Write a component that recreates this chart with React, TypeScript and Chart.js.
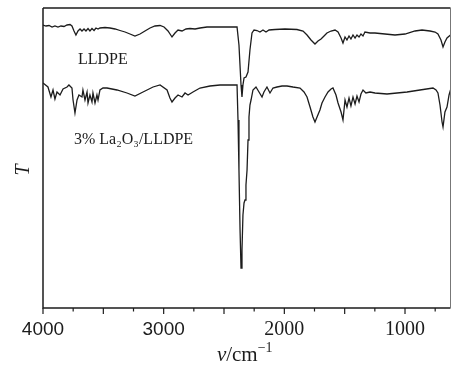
import React, { useEffect, useRef } from "react";
import { Chart, registerables } from "chart.js";

Chart.register(...registerables);

// LLDPE spectrum (wavenumber cm^-1, transmittance in arbitrary units)
const WN_LLDPE = [4000, 3975, 3950, 3925, 3901, 3876, 3851, 3826, 3801, 3776, 3760, 3743, 3727, 3710, 3693, 3677, 3660, 3644, 3627, 3611, 3594, 3577, 3561, 3544, 3528, 3486, 3445, 3403, 3362, 3320, 3279, 3238, 3196, 3155, 3113, 3072, 3030, 2997, 2964, 2931, 2906, 2881, 2848, 2815, 2782, 2740, 2699, 2641, 2575, 2492, 2392, 2376, 2359, 2351, 2343, 2334, 2318, 2301, 2285, 2268, 2251, 2227, 2202, 2177, 2152, 2127, 2077, 1995, 1895, 1845, 1812, 1779, 1746, 1721, 1696, 1671, 1647, 1613, 1580, 1555, 1530, 1514, 1497, 1481, 1464, 1448, 1431, 1414, 1398, 1381, 1365, 1348, 1332, 1290, 1249, 1166, 1083, 1000, 917, 859, 793, 751, 727, 702, 685, 669, 652, 623];
const T_LLDPE = [283, 282, 282.5, 281, 282, 281, 282, 281.5, 283, 283.5, 282, 277, 273, 277, 279, 277, 279, 277, 279.5, 277, 279.5, 277.5, 280, 279, 280, 280.5, 280, 279, 277.5, 276, 274, 272, 274, 277, 280, 282, 282.5, 281, 277, 271, 275, 278, 277, 279, 279.5, 279, 280, 281, 281, 281, 281, 263, 223, 211, 223, 230, 231, 236, 258, 275, 278, 277.5, 276, 278, 276, 278, 278.5, 279, 278.5, 277, 273, 268, 264, 267, 269, 272, 275, 277, 278, 276, 270, 265, 271, 268, 272, 269, 273, 270, 273, 271, 274, 272, 276, 275, 275, 274, 273, 274, 277, 278, 277, 276, 274, 268, 261, 266, 270, 273];

// 3% La2O3/LLDPE spectrum
const WN_COMPOSITE = [4000, 3959, 3934, 3917, 3901, 3884, 3859, 3834, 3801, 3785, 3760, 3751, 3735, 3718, 3702, 3677, 3669, 3652, 3635, 3627, 3611, 3594, 3586, 3569, 3553, 3544, 3528, 3503, 3470, 3387, 3304, 3238, 3171, 3088, 3030, 2972, 2948, 2931, 2906, 2881, 2848, 2823, 2798, 2757, 2699, 2616, 2533, 2450, 2392, 2384, 2376, 2367, 2359, 2351, 2343, 2334, 2326, 2318, 2309, 2301, 2293, 2285, 2276, 2260, 2235, 2210, 2185, 2169, 2144, 2119, 2094, 2061, 2019, 1978, 1928, 1870, 1837, 1812, 1787, 1763, 1746, 1729, 1705, 1688, 1663, 1638, 1613, 1597, 1572, 1555, 1530, 1514, 1497, 1481, 1464, 1448, 1431, 1414, 1398, 1381, 1365, 1348, 1324, 1290, 1249, 1149, 1066, 983, 876, 768, 743, 727, 710, 693, 685, 669, 652, 635, 623];
const T_COMPOSITE = [225, 221, 211, 218, 209, 216, 213, 219, 221, 223, 220, 208, 195, 208, 213, 211, 218, 208, 216, 205, 213, 206, 215, 205, 213, 208, 218, 220, 220, 218, 215, 212, 216, 221, 223, 218, 210, 206, 210, 213, 211, 215, 213, 216, 220, 222, 223, 223, 223, 188, 138, 78, 40, 58, 93, 105, 108, 123, 138, 168, 191, 203, 208, 218, 221, 216, 211, 216, 221, 215, 220, 221, 222, 222, 221, 220, 216, 211, 201, 191, 186, 191, 198, 205, 211, 216, 219, 220, 213, 205, 196, 188, 208, 201, 210, 202, 211, 204, 212, 206, 214, 218, 215, 216, 215, 214, 215, 216, 218, 220, 218, 215, 203, 186, 181, 196, 201, 213, 218];

const X_TICKS = [4000, 3750, 3500, 3250, 3000, 2750, 2500, 2250, 2000, 1750, 1500, 1250, 1000, 750];
const X_MIN = 623;
const X_MAX = 4000;
const Y_MIN = 0;
const Y_MAX = 300;

const SERIES_LABELS = ["LLDPE", "3% La₂O₃/LLDPE"];
const LABEL_WN = [3710, 3743];
const LABEL_T = [244, 164];

const Y_TITLE = "T";
const X_TITLE_VAR = "ν";
const X_TITLE_UNIT = "/cm";
const X_TITLE_EXP = "−1";

const INK = "#1c1c1c";

const decorPlugin = {
  id: "decor",
  afterDraw(chart: any) {
    const { ctx, chartArea, scales } = chart;
    const xs = scales.x;
    const ys = scales.y;
    const { left, right, top, bottom } = chartArea;
    ctx.save();
    // frame
    ctx.strokeStyle = INK;
    ctx.lineWidth = 1.5;
    ctx.beginPath();
    ctx.moveTo(left, top);
    ctx.lineTo(right, top);
    ctx.moveTo(left, top);
    ctx.lineTo(left, bottom);
    ctx.lineTo(right, bottom);
    ctx.stroke();
    ctx.strokeStyle = "#777";
    ctx.lineWidth = 1;
    ctx.beginPath();
    ctx.moveTo(right, top);
    ctx.lineTo(right, bottom);
    ctx.stroke();
    // ticks
    ctx.strokeStyle = INK;
    ctx.lineWidth = 1.2;
    ctx.beginPath();
    for (const t of xs.ticks) {
      const px = xs.getPixelForValue(t.value);
      const len = t.value % 500 === 0 ? 6 : 3.5;
      ctx.moveTo(px, bottom);
      ctx.lineTo(px, bottom + len);
    }
    ctx.stroke();
    // series labels
    ctx.fillStyle = INK;
    ctx.font = '16px "Liberation Serif", "Times New Roman", serif';
    ctx.textAlign = "left";
    ctx.textBaseline = "alphabetic";
    SERIES_LABELS.forEach((s, i) => {
      ctx.fillText(s, xs.getPixelForValue(LABEL_WN[i]), ys.getPixelForValue(LABEL_T[i]));
    });
    // y title
    ctx.save();
    ctx.translate(29, 170);
    ctx.rotate(-Math.PI / 2);
    ctx.font = 'italic 20px "Liberation Serif", "Times New Roman", serif';
    ctx.textAlign = "center";
    ctx.textBaseline = "alphabetic";
    ctx.fillText(Y_TITLE, 0, 0);
    ctx.restore();
    // x title
    const fMain = '21px "Liberation Serif", "Times New Roman", serif';
    const fIt = 'italic 21px "Liberation Serif", "Times New Roman", serif';
    const fSup = '14px "Liberation Serif", "Times New Roman", serif';
    ctx.font = fIt;
    const w1 = ctx.measureText(X_TITLE_VAR).width;
    ctx.font = fMain;
    const w2 = ctx.measureText(X_TITLE_UNIT).width;
    ctx.font = fSup;
    const w3 = ctx.measureText(X_TITLE_EXP).width;
    const total = w1 + w2 + w3;
    let x0 = (left + right) / 2 - total / 2 - 2;
    const base = 361;
    ctx.textAlign = "left";
    ctx.font = fIt;
    ctx.fillText(X_TITLE_VAR, x0, base);
    x0 += w1;
    ctx.font = fMain;
    ctx.fillText(X_TITLE_UNIT, x0, base);
    x0 += w2;
    ctx.font = fSup;
    ctx.fillText(X_TITLE_EXP, x0, base - 9);
    ctx.restore();
  },
};

export default function App() {
  const ref = useRef<HTMLCanvasElement | null>(null);
  useEffect(() => {
    if (!ref.current) return;
    const chart = new Chart(ref.current, {
      type: "line",
      data: {
        datasets: [
          {
            label: SERIES_LABELS[0],
            data: WN_LLDPE.map((w, i) => ({ x: w, y: T_LLDPE[i] })),
            borderColor: INK,
            borderWidth: 1.3,
            pointRadius: 0,
            tension: 0,
            fill: false,
          },
          {
            label: SERIES_LABELS[1],
            data: WN_COMPOSITE.map((w, i) => ({ x: w, y: T_COMPOSITE[i] })),
            borderColor: INK,
            borderWidth: 1.3,
            pointRadius: 0,
            tension: 0,
            fill: false,
          },
        ],
      },
      options: {
        responsive: false,
        animation: false,
        layout: { padding: { top: 8, right: 0.5, left: 0, bottom: 0 } },
        plugins: { legend: { display: false }, tooltip: { enabled: false } },
        scales: {
          x: {
            type: "linear",
            reverse: true,
            min: X_MIN,
            max: X_MAX,
            afterBuildTicks: (scale: any) => {
              scale.ticks = X_TICKS.map((v) => ({ value: v }));
            },
            afterFit: (scale: any) => {
              scale.height = 57;
            },
            grid: { display: false },
            border: { display: false },
            ticks: {
              autoSkip: false,
              maxRotation: 0,
              padding: 2,
              color: INK,
              font: (c: any) =>
                c.tick && c.tick.value >= 3000
                  ? { family: '"Liberation Sans", Arial, sans-serif', size: 19 }
                  : { family: '"Liberation Serif", "Times New Roman", serif', size: 20 },
              callback: (v: any) => (Number(v) % 1000 === 0 ? String(v) : ""),
            },
          },
          y: {
            type: "linear",
            min: Y_MIN,
            max: Y_MAX,
            afterFit: (scale: any) => {
              scale.width = 43;
            },
            grid: { display: false },
            border: { display: false },
            ticks: { display: false },
          },
        },
      },
      plugins: [decorPlugin],
    });
    return () => chart.destroy();
  }, []);
  return (
    <div style={{ position: "fixed", left: 0, top: 0, width: 451, height: 365, background: "#fff" }}>
      <canvas ref={ref} width={451} height={365} />
    </div>
  );
}
